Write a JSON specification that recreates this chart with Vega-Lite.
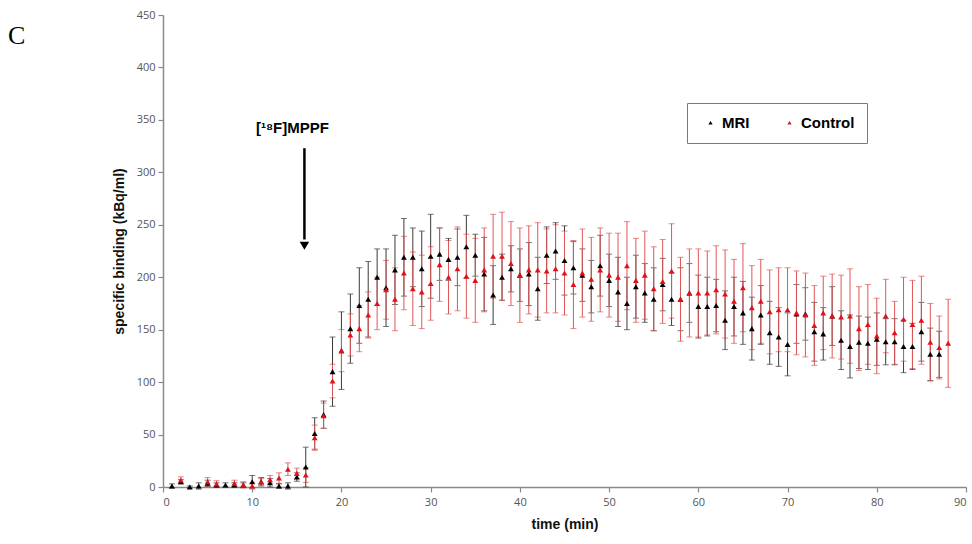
{
  "$schema": "https://vega.github.io/schema/vega-lite/v6.json",
  "width": 803,
  "height": 472,
  "autosize": {"type": "none"},
  "padding": {"left": 163, "top": 15, "right": 6, "bottom": 57},
  "background": "white",
  "title": {"text": "C", "anchor": "start", "frame": "group", "font": "Liberation Serif", "fontSize": 26, "fontWeight": "normal", "color": "#000", "dx": -155, "dy": 40, "offset": 0},
  "datasets": {
    "binding": [
      {"t": 1, "series": "MRI", "value": 1, "sd": 2},
      {"t": 2, "series": "MRI", "value": 5, "sd": 2},
      {"t": 3, "series": "MRI", "value": 0, "sd": 1},
      {"t": 4, "series": "MRI", "value": 1, "sd": 3},
      {"t": 5, "series": "MRI", "value": 3.5, "sd": 3},
      {"t": 6, "series": "MRI", "value": 2, "sd": 2},
      {"t": 7, "series": "MRI", "value": 2, "sd": 2},
      {"t": 8, "series": "MRI", "value": 2, "sd": 2},
      {"t": 9, "series": "MRI", "value": 2, "sd": 2},
      {"t": 10, "series": "MRI", "value": 5, "sd": 6},
      {"t": 11, "series": "MRI", "value": 5, "sd": 4},
      {"t": 12, "series": "MRI", "value": 4, "sd": 4},
      {"t": 13, "series": "MRI", "value": 1, "sd": 2},
      {"t": 14, "series": "MRI", "value": 1, "sd": 3},
      {"t": 15, "series": "MRI", "value": 9.5, "sd": 4},
      {"t": 16, "series": "MRI", "value": 19, "sd": 19},
      {"t": 17, "series": "MRI", "value": 51, "sd": 15},
      {"t": 18, "series": "MRI", "value": 69, "sd": 13},
      {"t": 19, "series": "MRI", "value": 110, "sd": 33},
      {"t": 20, "series": "MRI", "value": 130, "sd": 37},
      {"t": 21, "series": "MRI", "value": 151, "sd": 33},
      {"t": 22, "series": "MRI", "value": 173, "sd": 36},
      {"t": 23, "series": "MRI", "value": 179, "sd": 36},
      {"t": 24, "series": "MRI", "value": 200, "sd": 27},
      {"t": 25, "series": "MRI", "value": 190, "sd": 37},
      {"t": 26, "series": "MRI", "value": 207, "sd": 33},
      {"t": 27, "series": "MRI", "value": 219, "sd": 37},
      {"t": 28, "series": "MRI", "value": 219, "sd": 28},
      {"t": 29, "series": "MRI", "value": 208, "sd": 36},
      {"t": 30, "series": "MRI", "value": 220, "sd": 40},
      {"t": 31, "series": "MRI", "value": 222, "sd": 25},
      {"t": 32, "series": "MRI", "value": 217, "sd": 20},
      {"t": 33, "series": "MRI", "value": 219, "sd": 27},
      {"t": 34, "series": "MRI", "value": 229, "sd": 30},
      {"t": 35, "series": "MRI", "value": 221, "sd": 20},
      {"t": 36, "series": "MRI", "value": 203, "sd": 35},
      {"t": 37, "series": "MRI", "value": 183, "sd": 28},
      {"t": 38, "series": "MRI", "value": 200, "sd": 22},
      {"t": 39, "series": "MRI", "value": 208, "sd": 22},
      {"t": 40, "series": "MRI", "value": 202, "sd": 25},
      {"t": 41, "series": "MRI", "value": 203, "sd": 30},
      {"t": 42, "series": "MRI", "value": 189, "sd": 30},
      {"t": 43, "series": "MRI", "value": 221, "sd": 27},
      {"t": 44, "series": "MRI", "value": 225, "sd": 27},
      {"t": 45, "series": "MRI", "value": 216, "sd": 33},
      {"t": 46, "series": "MRI", "value": 209, "sd": 25},
      {"t": 47, "series": "MRI", "value": 202, "sd": 25},
      {"t": 48, "series": "MRI", "value": 191, "sd": 25},
      {"t": 49, "series": "MRI", "value": 211, "sd": 29},
      {"t": 50, "series": "MRI", "value": 197, "sd": 25},
      {"t": 51, "series": "MRI", "value": 186, "sd": 33},
      {"t": 52, "series": "MRI", "value": 175, "sd": 25},
      {"t": 53, "series": "MRI", "value": 191, "sd": 30},
      {"t": 54, "series": "MRI", "value": 185, "sd": 28},
      {"t": 55, "series": "MRI", "value": 179, "sd": 30},
      {"t": 56, "series": "MRI", "value": 193, "sd": 25},
      {"t": 57, "series": "MRI", "value": 179, "sd": 25},
      {"t": 58, "series": "MRI", "value": 179, "sd": 30},
      {"t": 59, "series": "MRI", "value": 185, "sd": 28},
      {"t": 60, "series": "MRI", "value": 172, "sd": 30},
      {"t": 61, "series": "MRI", "value": 172, "sd": 28},
      {"t": 62, "series": "MRI", "value": 173, "sd": 25},
      {"t": 63, "series": "MRI", "value": 159, "sd": 28},
      {"t": 64, "series": "MRI", "value": 172, "sd": 28},
      {"t": 65, "series": "MRI", "value": 166, "sd": 30},
      {"t": 66, "series": "MRI", "value": 151, "sd": 30},
      {"t": 67, "series": "MRI", "value": 164, "sd": 28},
      {"t": 68, "series": "MRI", "value": 147, "sd": 30},
      {"t": 69, "series": "MRI", "value": 143, "sd": 28},
      {"t": 70, "series": "MRI", "value": 136, "sd": 30},
      {"t": 71, "series": "MRI", "value": 165, "sd": 28},
      {"t": 72, "series": "MRI", "value": 165, "sd": 25},
      {"t": 73, "series": "MRI", "value": 148, "sd": 28},
      {"t": 74, "series": "MRI", "value": 146, "sd": 25},
      {"t": 75, "series": "MRI", "value": 163, "sd": 28},
      {"t": 76, "series": "MRI", "value": 140, "sd": 28},
      {"t": 77, "series": "MRI", "value": 134, "sd": 30},
      {"t": 78, "series": "MRI", "value": 138, "sd": 25},
      {"t": 79, "series": "MRI", "value": 137, "sd": 25},
      {"t": 80, "series": "MRI", "value": 141, "sd": 25},
      {"t": 81, "series": "MRI", "value": 138.5, "sd": 22},
      {"t": 82, "series": "MRI", "value": 138.5, "sd": 22},
      {"t": 83, "series": "MRI", "value": 134, "sd": 25},
      {"t": 84, "series": "MRI", "value": 134, "sd": 22},
      {"t": 85, "series": "MRI", "value": 148, "sd": 28},
      {"t": 86, "series": "MRI", "value": 126.5, "sd": 25},
      {"t": 87, "series": "MRI", "value": 126.5, "sd": 22},
      {"t": 2, "series": "Control", "value": 6.7, "sd": 3},
      {"t": 5, "series": "Control", "value": 5, "sd": 4},
      {"t": 6, "series": "Control", "value": 3, "sd": 3},
      {"t": 8, "series": "Control", "value": 3.5, "sd": 3},
      {"t": 9, "series": "Control", "value": 2, "sd": 3},
      {"t": 10, "series": "Control", "value": 1, "sd": 3},
      {"t": 11, "series": "Control", "value": 5, "sd": 3},
      {"t": 12, "series": "Control", "value": 7, "sd": 4},
      {"t": 13, "series": "Control", "value": 8.5, "sd": 5},
      {"t": 14, "series": "Control", "value": 17, "sd": 6},
      {"t": 15, "series": "Control", "value": 13, "sd": 5},
      {"t": 16, "series": "Control", "value": 11.4, "sd": 7},
      {"t": 17, "series": "Control", "value": 47, "sd": 12},
      {"t": 18, "series": "Control", "value": 68, "sd": 12},
      {"t": 19, "series": "Control", "value": 101, "sd": 16},
      {"t": 20, "series": "Control", "value": 130, "sd": 20},
      {"t": 21, "series": "Control", "value": 145, "sd": 20},
      {"t": 22, "series": "Control", "value": 151, "sd": 22},
      {"t": 23, "series": "Control", "value": 164, "sd": 22},
      {"t": 24, "series": "Control", "value": 175, "sd": 25},
      {"t": 25, "series": "Control", "value": 188, "sd": 28},
      {"t": 26, "series": "Control", "value": 179, "sd": 30},
      {"t": 27, "series": "Control", "value": 204, "sd": 35},
      {"t": 28, "series": "Control", "value": 189, "sd": 35},
      {"t": 29, "series": "Control", "value": 186, "sd": 35},
      {"t": 30, "series": "Control", "value": 194, "sd": 35},
      {"t": 31, "series": "Control", "value": 212, "sd": 35},
      {"t": 32, "series": "Control", "value": 200, "sd": 35},
      {"t": 33, "series": "Control", "value": 208, "sd": 40},
      {"t": 34, "series": "Control", "value": 201, "sd": 40},
      {"t": 35, "series": "Control", "value": 197, "sd": 40},
      {"t": 36, "series": "Control", "value": 207, "sd": 40},
      {"t": 37, "series": "Control", "value": 220, "sd": 40},
      {"t": 38, "series": "Control", "value": 220, "sd": 42},
      {"t": 39, "series": "Control", "value": 213, "sd": 40},
      {"t": 40, "series": "Control", "value": 202, "sd": 45},
      {"t": 41, "series": "Control", "value": 207, "sd": 42},
      {"t": 42, "series": "Control", "value": 207, "sd": 45},
      {"t": 43, "series": "Control", "value": 206, "sd": 40},
      {"t": 44, "series": "Control", "value": 208, "sd": 42},
      {"t": 45, "series": "Control", "value": 204, "sd": 40},
      {"t": 46, "series": "Control", "value": 193, "sd": 42},
      {"t": 47, "series": "Control", "value": 204, "sd": 42},
      {"t": 48, "series": "Control", "value": 198, "sd": 40},
      {"t": 49, "series": "Control", "value": 207, "sd": 40},
      {"t": 50, "series": "Control", "value": 202, "sd": 40},
      {"t": 51, "series": "Control", "value": 200, "sd": 42},
      {"t": 52, "series": "Control", "value": 211, "sd": 42},
      {"t": 53, "series": "Control", "value": 197, "sd": 40},
      {"t": 54, "series": "Control", "value": 202, "sd": 42},
      {"t": 55, "series": "Control", "value": 189, "sd": 40},
      {"t": 56, "series": "Control", "value": 196, "sd": 40},
      {"t": 57, "series": "Control", "value": 206, "sd": 45},
      {"t": 58, "series": "Control", "value": 179, "sd": 40},
      {"t": 59, "series": "Control", "value": 185, "sd": 42},
      {"t": 60, "series": "Control", "value": 185, "sd": 42},
      {"t": 61, "series": "Control", "value": 185, "sd": 40},
      {"t": 62, "series": "Control", "value": 188, "sd": 42},
      {"t": 63, "series": "Control", "value": 184, "sd": 42},
      {"t": 64, "series": "Control", "value": 177, "sd": 40},
      {"t": 65, "series": "Control", "value": 190, "sd": 42},
      {"t": 66, "series": "Control", "value": 171, "sd": 40},
      {"t": 67, "series": "Control", "value": 177, "sd": 40},
      {"t": 68, "series": "Control", "value": 167, "sd": 40},
      {"t": 69, "series": "Control", "value": 169, "sd": 40},
      {"t": 70, "series": "Control", "value": 169, "sd": 40},
      {"t": 71, "series": "Control", "value": 166, "sd": 40},
      {"t": 72, "series": "Control", "value": 164, "sd": 40},
      {"t": 73, "series": "Control", "value": 154, "sd": 38},
      {"t": 74, "series": "Control", "value": 166, "sd": 35},
      {"t": 75, "series": "Control", "value": 163, "sd": 40},
      {"t": 76, "series": "Control", "value": 162, "sd": 40},
      {"t": 77, "series": "Control", "value": 163, "sd": 45},
      {"t": 78, "series": "Control", "value": 151, "sd": 40},
      {"t": 79, "series": "Control", "value": 155, "sd": 38},
      {"t": 80, "series": "Control", "value": 144, "sd": 36},
      {"t": 81, "series": "Control", "value": 163, "sd": 35},
      {"t": 82, "series": "Control", "value": 147, "sd": 30},
      {"t": 83, "series": "Control", "value": 160, "sd": 40},
      {"t": 84, "series": "Control", "value": 155, "sd": 42},
      {"t": 85, "series": "Control", "value": 159, "sd": 42},
      {"t": 86, "series": "Control", "value": 138, "sd": 37},
      {"t": 87, "series": "Control", "value": 133, "sd": 30},
      {"t": 88, "series": "Control", "value": 137, "sd": 42}
    ],
    "label": [
      {"t": 14.5, "v": 342, "text": "[¹⁸F]MPPF"}
    ],
    "arrow": [
      {"t": 15.85, "v1": 323, "v2": 236, "tip": 230}
    ]
  },
  "config": {
    "view": {"stroke": null},
    "axis": {
      "domainColor": "#8a8a8a",
      "domainWidth": 1.5,
      "tickColor": "#8a8a8a",
      "tickWidth": 1.2,
      "tickSize": 5,
      "grid": false,
      "labelFont": "Open Sans",
      "labelFontSize": 11,
      "labelColor": "#555555",
      "titleFont": "Liberation Sans",
      "titleFontSize": 14,
      "titleFontWeight": "bold",
      "titleColor": "#111"
    }
  },
  "layer": [
    {
      "data": {"name": "binding"},
      "mark": {"type": "errorbar", "ticks": {"size": 6}, "thickness": 1},
      "encoding": {
        "x": {"field": "t", "type": "quantitative", "scale": {"domain": [0, 90], "nice": false}, "axis": {"values": [0, 10, 20, 30, 40, 50, 60, 70, 80, 90], "title": "time (min)", "titlePadding": 10, "labelPadding": 4}},
        "y": {"field": "value", "type": "quantitative", "scale": {"domain": [0, 450], "nice": false}, "axis": {"values": [0, 50, 100, 150, 200, 250, 300, 350, 400, 450], "title": "specific binding (kBq/ml)", "titlePadding": 10, "labelPadding": 3}},
        "yError": {"field": "sd"},
        "color": {"field": "series", "type": "nominal", "scale": {"domain": ["MRI", "Control"], "range": ["#3a3a3a", "#e05555"]}, "legend": null}
      }
    },
    {
      "data": {"name": "binding"},
      "mark": {"type": "point", "shape": "triangle-up", "filled": true, "size": 34, "opacity": 1},
      "encoding": {
        "x": {"field": "t", "type": "quantitative"},
        "y": {"field": "value", "type": "quantitative"},
        "color": {"field": "series", "type": "nominal", "scale": {"domain": ["MRI", "Control"], "range": ["#000000", "#e3101a"]},
          "legend": {"title": null, "orient": "none", "legendX": 524, "legendY": 88, "direction": "horizontal", "strokeColor": "#7a7a7a", "fillColor": "white", "padding": 12, "symbolType": "triangle-up", "symbolSize": 18, "labelFont": "Liberation Sans", "labelFontSize": 15, "labelFontWeight": "bold", "labelColor": "#000", "columnPadding": 28, "symbolOffset": 4}}
      }
    },
    {
      "data": {"name": "label"},
      "mark": {"type": "text", "font": "Liberation Sans", "fontSize": 15, "fontWeight": "bold", "color": "#000"},
      "encoding": {
        "x": {"field": "t", "type": "quantitative"},
        "y": {"field": "v", "type": "quantitative"},
        "text": {"field": "text"}
      }
    },
    {
      "data": {"name": "arrow"},
      "mark": {"type": "rule", "strokeWidth": 2.5, "color": "#000"},
      "encoding": {
        "x": {"field": "t", "type": "quantitative"},
        "y": {"field": "v1", "type": "quantitative"},
        "y2": {"field": "v2"}
      }
    },
    {
      "data": {"name": "arrow"},
      "mark": {"type": "point", "shape": "triangle-down", "filled": true, "size": 90, "color": "#000", "opacity": 1},
      "encoding": {
        "x": {"field": "t", "type": "quantitative"},
        "y": {"field": "tip", "type": "quantitative"}
      }
    }
  ],
  "resolve": {"scale": {"color": "independent"}}
}
